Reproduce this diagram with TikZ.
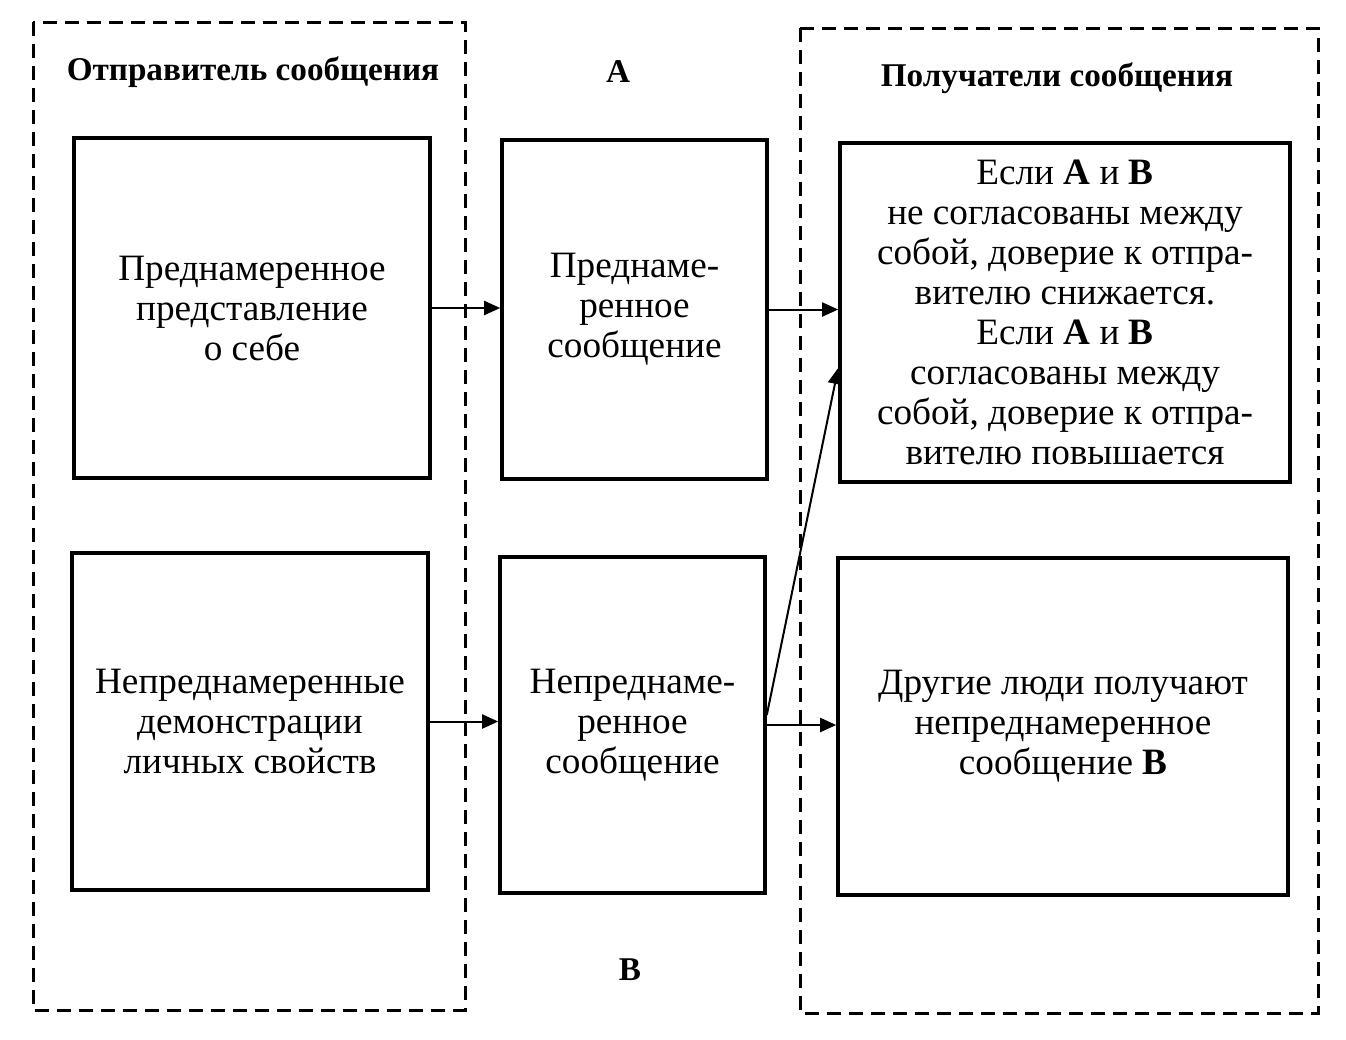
\documentclass[tikz,border=0pt]{standalone}
\usepackage{fontspec}
\setmainfont{Liberation Serif}
\usetikzlibrary{arrows.meta}
\begin{document}
\begin{tikzpicture}[x=0.5pt,y=-0.5pt,
  box/.style={draw,line width=1.8pt,inner sep=0pt,align=center,
    font=\fontsize{18.6}{20}\selectfont},
  title/.style={font=\fontsize{16.6}{18}\selectfont\bfseries},
  frame/.style={draw,line width=1.5pt,dash pattern=on 7pt off 4pt},
  arr/.style={line width=1pt,-{Triangle[length=8pt,width=7pt]}}]
\useasboundingbox (0,0) rectangle (1346,1040);
\draw[frame] (33,22) rectangle (465,1010);
\draw[frame] (800,28) rectangle (1318,1013);
\node[title] (ts) at (253,72) {Отправитель сообщения};
\node[title] (ta) at (618,72) {A};
\node[title] (tr) at (1057,78) {Получатели сообщения};
\node[title] (tb) at (630,970) {B};
\node[box,minimum width=178pt,minimum height=170pt] (L1) at (252,308)
  {Преднамеренное\\представление\\о себе};
\node[box,minimum width=178pt,minimum height=168.5pt] (L2) at (250,721.5)
  {Непреднамеренные\\демонстрации\\личных свойств};
\node[box,minimum width=132.5pt,minimum height=169.5pt] (M1) at (634.5,309.5)
  {Преднаме-\\ренное\\сообщение};
\node[box,minimum width=132.5pt,minimum height=168pt] (M2) at (632.5,725)
  {Непреднаме-\\ренное\\сообщение};
\node[box,minimum width=225pt,minimum height=169.5pt] (R1) at (1065,312.5)
  {Если \textbf{A} и \textbf{B}\\не согласованы между\\собой, доверие к отпра-\\вителю снижается.\\Если \textbf{A} и \textbf{B}\\согласованы между\\собой, доверие к отпра-\\вителю повышается};
\node[box,minimum width=225pt,minimum height=168.5pt] (R2) at (1063,726.5)
  {Другие люди получают\\непреднамеренное\\сообщение \textbf{B}};
\draw[arr] (L1.east) -- (L1.east -| M1.west);
\draw[arr] (M1.east) -- (M1.east -| R1.west);
\draw[arr] (L2.east) -- (L2.east -| M2.west);
\draw[arr] (M2.east) -- (M2.east -| R2.west);
\coordinate (d0) at ([yshift=5pt]M2.east);
\coordinate (d1) at ([yshift=-27.75pt]R1.west);
\draw[arr] (d0) -- (d1);
\end{tikzpicture}
\end{document}
